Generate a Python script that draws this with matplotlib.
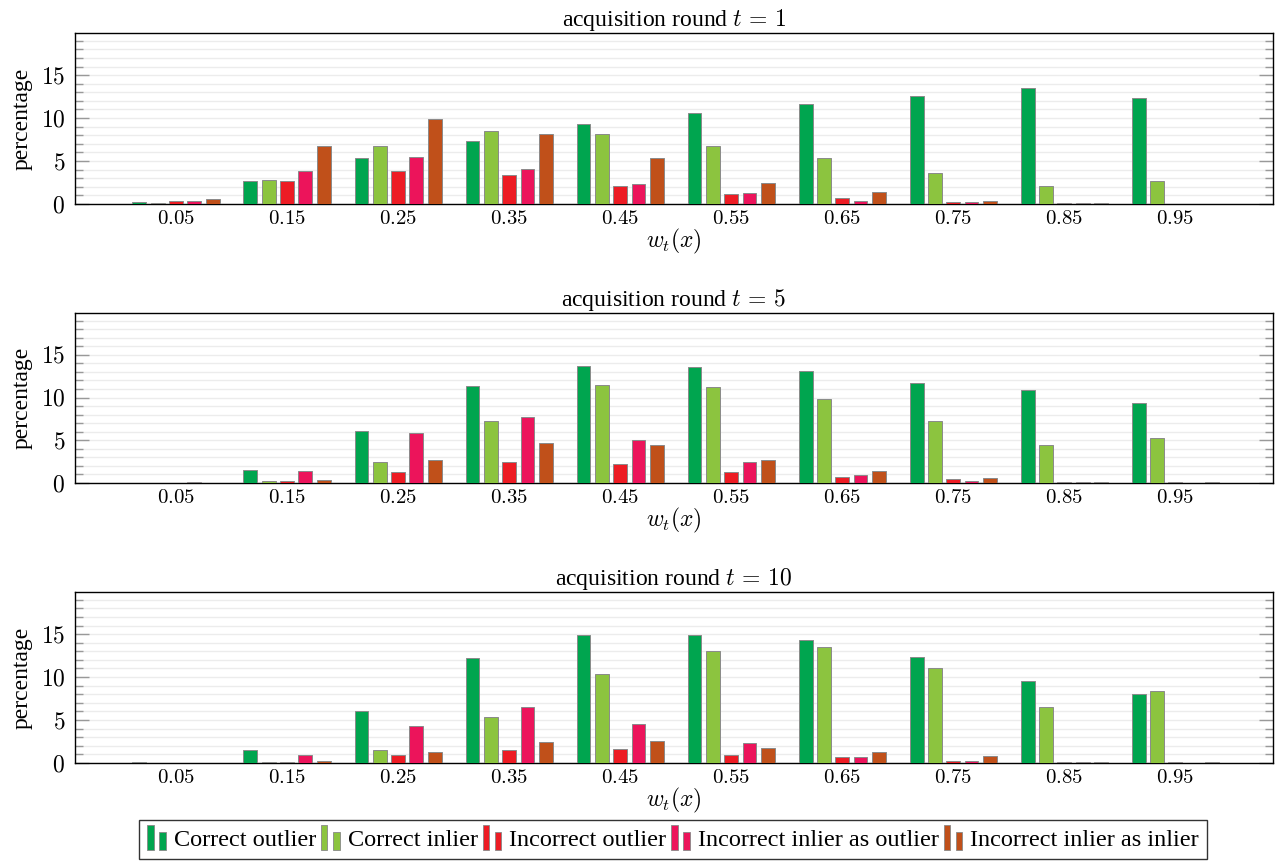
import numpy as np
import matplotlib.pyplot as plt
from matplotlib.patches import Rectangle
from matplotlib.legend_handler import HandlerBase

plt.rcParams['font.family'] = ['Liberation Serif', 'DejaVu Serif']
plt.rcParams['mathtext.fontset'] = 'cm'

# w_t(x) bins
bins = [0.05, 0.15, 0.25, 0.35, 0.45, 0.55, 0.65, 0.75, 0.85, 0.95]
bin_labels = ['0.05', '0.15', '0.25', '0.35', '0.45', '0.55', '0.65', '0.75', '0.85', '0.95']
y_ticks = [0, 5, 10, 15]
rounds = [1, 5, 10]

series_names = ['Correct outlier', 'Correct inlier', 'Incorrect outlier',
                'Incorrect inlier as outlier', 'Incorrect inlier as inlier']
series_colors = ['#00a54f', '#8cc43f', '#ed1c24', '#ec145b', '#c0501a']

# round t = 1
correct_outlier_t1 = [0.2, 2.7, 5.35, 7.3, 9.35, 10.55, 11.65, 12.6, 13.45, 12.3]
correct_inlier_t1 = [0.15, 2.85, 6.8, 8.55, 8.15, 6.8, 5.4, 3.55, 2.15, 2.7]
incorrect_outlier_t1 = [0.3, 2.7, 3.85, 3.35, 2.15, 1.15, 0.65, 0.25, 0.1, 0.04]
incorrect_in_as_out_t1 = [0.4, 3.8, 5.5, 4.1, 2.3, 1.25, 0.4, 0.25, 0.08, 0.03]
incorrect_in_as_in_t1 = [0.55, 6.75, 9.85, 8.1, 5.4, 2.4, 1.35, 0.4, 0.1, 0.05]

# round t = 5
correct_outlier_t5 = [0.02, 1.5, 6.05, 11.3, 13.7, 13.6, 13.1, 11.65, 10.9, 9.35]
correct_inlier_t5 = [0.02, 0.25, 2.4, 7.2, 11.5, 11.25, 9.85, 7.2, 4.4, 5.25]
incorrect_outlier_t5 = [0.03, 0.2, 1.3, 2.45, 2.2, 1.3, 0.7, 0.43, 0.1, 0.1]
incorrect_in_as_out_t5 = [0.08, 1.35, 5.85, 7.7, 5.0, 2.45, 0.97, 0.23, 0.08, 0.04]
incorrect_in_as_in_t5 = [0.03, 0.35, 2.7, 4.7, 4.4, 2.65, 1.35, 0.58, 0.1, 0.1]

# round t = 10
correct_outlier_t10 = [0.1, 1.55, 6.0, 12.2, 14.95, 14.9, 14.3, 12.35, 9.6, 8.0]
correct_inlier_t10 = [0.05, 0.15, 1.5, 5.35, 10.35, 13.0, 13.5, 11.1, 6.5, 8.35]
incorrect_outlier_t10 = [0.05, 0.15, 0.9, 1.47, 1.6, 0.9, 0.75, 0.28, 0.1, 0.15]
incorrect_in_as_out_t10 = [0.05, 0.9, 4.25, 6.55, 4.55, 2.3, 0.7, 0.28, 0.1, 0.05]
incorrect_in_as_in_t10 = [0.03, 0.27, 1.28, 2.45, 2.55, 1.7, 1.3, 0.85, 0.15, 0.07]

data = {
    1: [correct_outlier_t1, correct_inlier_t1, incorrect_outlier_t1, incorrect_in_as_out_t1, incorrect_in_as_in_t1],
    5: [correct_outlier_t5, correct_inlier_t5, incorrect_outlier_t5, incorrect_in_as_out_t5, incorrect_in_as_in_t5],
    10: [correct_outlier_t10, correct_inlier_t10, incorrect_outlier_t10, incorrect_in_as_out_t10, incorrect_in_as_in_t10],
}


class TwoBarHandler(HandlerBase):
    # pgfplots style legend image: two small bars
    def create_artists(self, legend, orig_handle, xdescent, ydescent, width, height, fontsize, trans):
        c = orig_handle.get_facecolor()
        bw = width * 0.3
        r1 = Rectangle((0, -0.25 * height), bw, 1.45 * height, facecolor=c, edgecolor='#888888', lw=0.6, transform=trans)
        r2 = Rectangle((width * 0.55, -0.25 * height), bw, 1.05 * height, facecolor=c, edgecolor='#888888', lw=0.6, transform=trans)
        return [r1, r2]


W, H = 1275, 863
fig = plt.figure(figsize=(W / 100, H / 100), dpi=100)

ax_px = [(33, 204), (313, 483), (592, 763)]
x = np.array(bins)
pitch = 0.0165
bw = 0.0125

handles = []
for (top, bot), t in zip(ax_px, rounds):
    ax = fig.add_axes([75 / W, 1 - bot / H, (1273 - 75) / W, (bot - top) / H])
    for i, vals in enumerate(data[t]):
        b = ax.bar(x + (i - 2) * pitch, vals, width=bw, color=series_colors[i],
                   edgecolor='#8a8a8a', linewidth=0.7, zorder=3, label=series_names[i])
        if t == 1:
            handles.append(b.patches[0])
    ax.set_xlim(-0.041, 1.038)
    ax.set_ylim(0, 19.9)
    ax.set_xticks(bins)
    ax.set_xticklabels(['$%s$' % s for s in bin_labels], fontsize=15)
    ax.set_yticks(y_ticks)
    ax.set_yticklabels(['$%d$' % v for v in y_ticks], fontsize=17)
    ax.set_yticks(np.arange(0, 20, 1), minor=True)
    ax.tick_params(axis='y', which='major', direction='in', length=10, width=1, color='#999999',
                   right=True, pad=7)
    ax.tick_params(axis='y', which='minor', direction='in', length=6, width=1, color='#999999', right=True)
    ax.tick_params(axis='x', length=0, pad=4)
    ax.grid(axis='y', which='both', color='#ececec', linewidth=1, zorder=0)
    for s in ax.spines.values():
        s.set_color('black')
        s.set_linewidth(1)
    ax.set_ylabel('percentage', fontsize=17, labelpad=6)
    ax.set_xlabel(r'$w_t(x)$', fontsize=17, labelpad=-1)
    ax.set_title('acquisition round $t\\,=\\,%d$' % t, fontsize=17, pad=1)

leg = fig.legend(handles, series_names, loc='upper center', bbox_to_anchor=(673 / W, 1 - 820 / H),
                 ncol=5, prop={'family': 'Liberation Serif', 'size': 17.5}, frameon=True, fancybox=False,
                 edgecolor='black', handler_map={Rectangle: TwoBarHandler()}, handlelength=0.9,
                 handletextpad=0.2, columnspacing=0.2, borderpad=0.35, borderaxespad=0)
leg.get_frame().set_linewidth(1)

plt.savefig('out.png', dpi=100)
